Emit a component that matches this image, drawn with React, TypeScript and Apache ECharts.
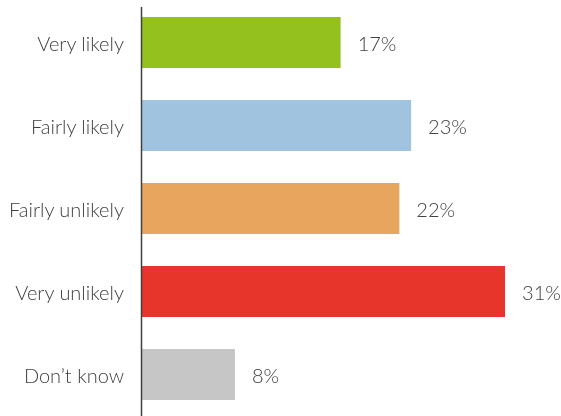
import React, { useEffect, useRef } from "react";
import * as echarts from "echarts";

const categories = ["Very likely", "Fairly likely", "Fairly unlikely", "Very unlikely", "Don\u2019t know"];
const values = [17, 23, 22, 31, 8];
const colors = ["#95c11f", "#a0c3e0", "#e8a55e", "#e8352c", "#c6c6c6"];

export default function App() {
  const ref = useRef<HTMLDivElement>(null);
  useEffect(() => {
    const chart = echarts.init(ref.current!, null, { renderer: "svg" });
    chart.setOption({
      animation: false,
      grid: { left: 141, right: 9, top: 1, bottom: -2, containLabel: false },
      xAxis: {
        type: "value",
        min: 0,
        max: 35,
        show: false,
      },
      yAxis: {
        type: "category",
        data: categories,
        inverse: true,
        axisLine: { show: false },
        axisTick: { show: false },
        axisLabel: {
          margin: 17,
          fontSize: 20,
          fontFamily: "Lato",
          fontWeight: 300,
          color: "#404040",
        },
      },
      graphic: [
        {
          type: "line",
          shape: { x1: 141.5, y1: 7, x2: 141.5, y2: 416 },
          style: { stroke: "#404040", lineWidth: 1.5 },
          z: 100,
        },
      ],
      series: [
        {
          type: "bar",
          barWidth: 51,
          data: values.map((v, i) => ({ value: v, itemStyle: { color: colors[i] } })),
          label: {
            show: true,
            position: "right",
            distance: 17,
            formatter: "{c}%",
            fontSize: 20,
            fontFamily: "Lato",
            fontWeight: 300,
            color: "#404040",
          },
        },
      ],
    });
    return () => chart.dispose();
  }, []);
  return (
    <div
      ref={ref}
      style={{ position: "fixed", left: 0, top: 0, width: 561, height: 416 }}
    />
  );
}
